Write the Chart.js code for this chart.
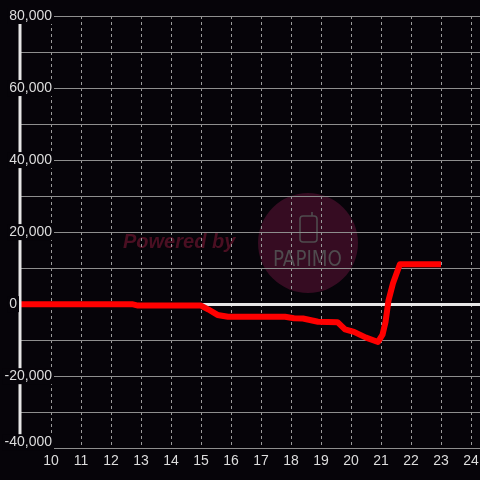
<!DOCTYPE html>
<html><head><meta charset="utf-8">
<script src="https://cdn.jsdelivr.net/npm/chart.js@4"></script>
<style>html,body{margin:0;padding:0;background:#060409;overflow:hidden}</style>
</head><body>
<canvas id="c" width="480" height="480"></canvas>
<script>
// data (hour of day -> cumulative difference)
const hours = [9, 12.7, 12.9, 15.0, 15.25, 15.55, 15.9, 17.8, 18.1, 18.4, 18.9, 19.55, 19.8, 20.1, 20.5, 20.9, 21.05, 21.15, 21.25, 21.4, 21.63, 23.0];
const diffValues = [0, 0, -400, -400, -1500, -3000, -3500, -3500, -3900, -4000, -4900, -5000, -7000, -7700, -9300, -10500, -8500, -5000, 1000, 5800, 11100, 11100];
const xTicks = [10, 11, 12, 13, 14, 15, 16, 17, 18, 19, 20, 21, 22, 23, 24];
const yTicks = [-40000, -30000, -20000, -10000, 0, 10000, 20000, 30000, 40000, 50000, 60000, 70000, 80000];
const yLabelValues = [-40000, -20000, 0, 20000, 40000, 60000, 80000];

const BG = '#060409';
const FONT = '14px "Liberation Sans", Arial, sans-serif';

const bgPlugin = {
  id: 'bgwm',
  beforeDraw(chart) {
    const ctx = chart.ctx;
    ctx.save();
    ctx.fillStyle = BG;
    ctx.fillRect(0, 0, chart.width, chart.height);
    // watermark
    ctx.fillStyle = '#360c22';
    ctx.beginPath(); ctx.arc(308, 243, 50, 0, Math.PI * 2); ctx.fill();
    ctx.fillStyle = '#4a0f22';
    ctx.font = 'italic bold 20px "Liberation Sans", Arial, sans-serif';
    ctx.textBaseline = 'alphabetic'; ctx.textAlign = 'left';
    ctx.fillText('Powered by', 123, 248, 116);
    ctx.strokeStyle = '#4f4b4e'; ctx.lineWidth = 1.6;
    ctx.beginPath();
    if (ctx.roundRect) ctx.roundRect(300, 216, 17, 26, 3); else ctx.rect(300, 216, 17, 26);
    ctx.stroke();
    ctx.beginPath(); ctx.moveTo(312, 216); ctx.lineTo(312, 212); ctx.stroke();
    ctx.fillStyle = '#4f4b4e';
    ctx.font = '22px "DejaVu Sans", sans-serif';
    ctx.fillText('PAPIMO', 273, 266, 69);
    ctx.restore();
  },
  afterDatasetsDraw(chart) {
    const ctx = chart.ctx, ys = chart.scales.y, a = chart.chartArea;
    ctx.save();
    ctx.strokeStyle = '#e6e6e6'; ctx.lineWidth = 3;
    ctx.beginPath(); ctx.moveTo(a.left - 1, a.top); ctx.lineTo(a.left - 1, a.bottom); ctx.stroke();
    ctx.font = FONT; ctx.textBaseline = 'middle'; ctx.textAlign = 'right';
    for (const v of yLabelValues) {
      const t = v.toLocaleString('en-US');
      const w = ctx.measureText(t).width;
      const y = Math.min(ys.getPixelForValue(v), a.bottom - 6);
      let right = a.left - 4;
      if (right - w < 2) right = a.left + 31;
      ctx.fillStyle = BG;
      ctx.fillRect(right - w - 2, y - 8, w + 4, 16);
      ctx.fillStyle = '#dddddd';
      ctx.fillText(t, right, y);
    }
    ctx.restore();
  }
};

new Chart(document.getElementById('c'), {
  type: 'line',
  data: {
    datasets: [{
      data: hours.map((h, i) => ({ x: h, y: diffValues[i] })),
      borderColor: '#ff0000',
      borderWidth: 6,
      pointRadius: 0,
      tension: 0,
      fill: false,
      borderJoinStyle: 'round',
      borderCapStyle: 'butt'
    }]
  },
  options: {
    responsive: false,
    animation: false,
    events: [],
    layout: { padding: { left: 21, top: 16, right: 0, bottom: 5 } },
    plugins: { legend: { display: false }, tooltip: { enabled: false } },
    scales: {
      x: {
        type: 'linear', min: 9, max: 24.3,
        afterBuildTicks: s => { s.ticks = xTicks.map(v => ({ value: v })); },
        afterFit: s => { s.paddingLeft = 0; s.paddingRight = 0; },
        ticks: { color: '#dddddd', font: { size: 14, family: '"Liberation Sans", Arial, sans-serif' }, padding: 5, maxRotation: 0, autoSkip: false, callback: v => String(v) },
        grid: { color: '#9a9a9a', lineWidth: 1, drawTicks: false },
        border: { display: false, dash: [3, 3] }
      },
      y: {
        type: 'linear', min: -40000, max: 80000,
        afterBuildTicks: s => { s.ticks = yTicks.map(v => ({ value: v })); },
        afterFit: s => { s.paddingTop = 0; s.paddingBottom = 0; },
        ticks: { display: false },
        grid: {
          drawTicks: false,
          color: c => (c.tick && c.tick.value === 0) ? '#e8e8e8' : '#8e8e8e',
          lineWidth: c => (c.tick && c.tick.value === 0) ? 3 : 1
        },
        border: { display: false }
      }
    }
  },
  plugins: [bgPlugin]
});
</script>
</body></html>
